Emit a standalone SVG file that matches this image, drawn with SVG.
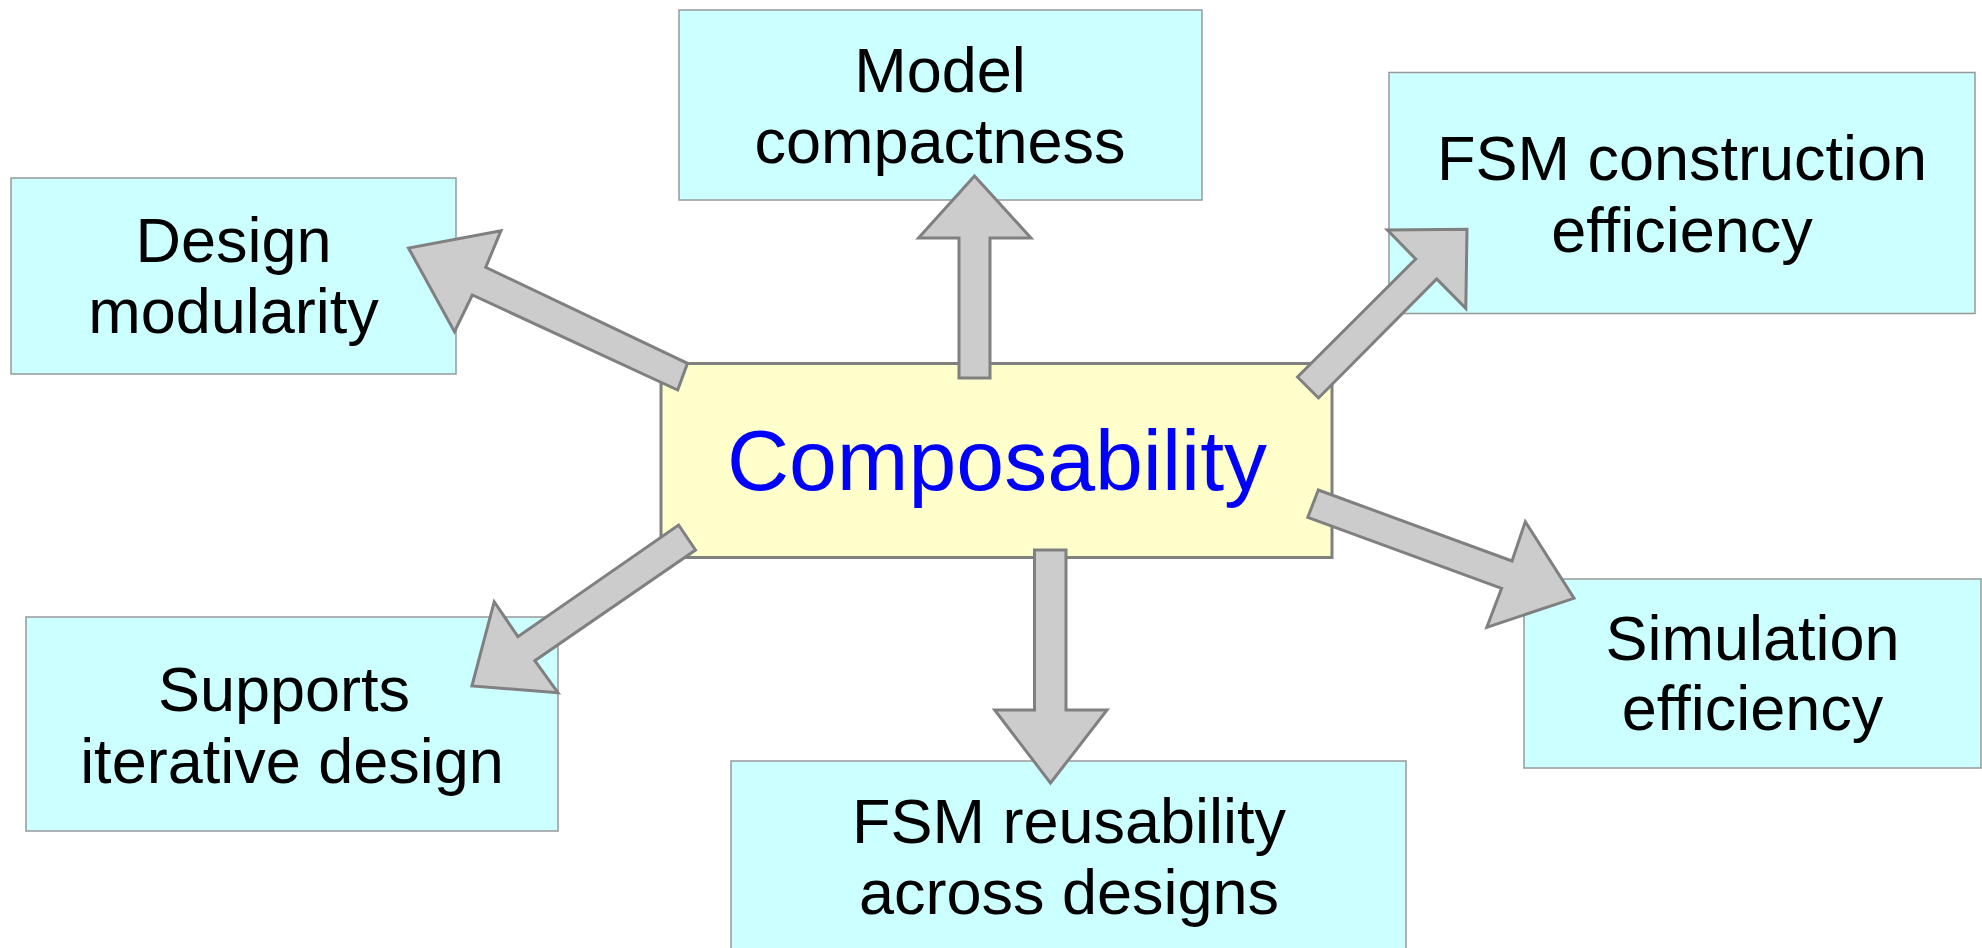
<svg xmlns="http://www.w3.org/2000/svg" width="1982" height="948" viewBox="0 0 1982 948">
<style>
.box{fill:#ccffff;stroke:#999999;stroke-width:1.5}
.core{fill:#ffffcc;stroke:#808080;stroke-width:3}
.lbl{font-family:"Liberation Sans",Arial,sans-serif;font-size:63px;fill:#000000;text-anchor:middle}
.core-lbl{font-family:"Liberation Sans",Arial,sans-serif;font-size:86px;fill:#0000ff;text-anchor:middle}
.arrow{fill:#cccccc;stroke:#808080;stroke-width:3;stroke-linejoin:miter}
</style>
<rect width="1982" height="948" fill="#ffffff"/>
<g id="design-modularity">
<rect class="box" x="11" y="178" width="445" height="196"/>
<text class="lbl" x="233.5" y="262">Design</text>
<text class="lbl" x="233.5" y="333">modularity</text>
</g>
<g id="model-compactness">
<rect class="box" x="679" y="10" width="523" height="190"/>
<text class="lbl" x="940" y="92">Model</text>
<text class="lbl" x="940" y="163">compactness</text>
</g>
<g id="fsm-construction">
<rect class="box" x="1389" y="72.5" width="586" height="241"/>
<text class="lbl" x="1682" y="180">FSM construction</text>
<text class="lbl" x="1682" y="251.5">efficiency</text>
</g>
<g id="supports-iterative">
<rect class="box" x="26" y="617" width="532" height="214"/>
<text class="lbl" x="284" y="710.5">Supports</text>
<text class="lbl" x="292" y="782.5">iterative design</text>
</g>
<g id="fsm-reusability">
<rect class="box" x="731" y="761" width="675" height="200"/>
<text class="lbl" x="1069" y="843">FSM reusability</text>
<text class="lbl" x="1069" y="914">across designs</text>
</g>
<g id="simulation-efficiency">
<rect class="box" x="1524" y="579" width="457" height="189"/>
<text class="lbl" x="1752.5" y="660">Simulation</text>
<text class="lbl" x="1752.5" y="730">efficiency</text>
</g>
<g id="composability">
<rect class="core" x="661" y="363.5" width="671" height="194"/>
<text class="core-lbl" x="997" y="490">Composability</text>
</g>
<g id="connectors">
<polygon class="arrow" points="959,378 959,238 918.5,238 974.5,176 1031,238 990,238 990,378"/>
<polygon class="arrow" points="1034.5,550 1066,550 1066,710 1107,710 1050.5,783 994.7,710 1034.5,710"/>
<polygon class="arrow" points="687.5,363.3 677.7,390 472.3,295 454.5,331.7 408.5,248 501,230.7 485.7,267.3"/>
<polygon class="arrow" points="1297.5,377 1318.5,398 1436.7,279 1465.8,308.3 1467,229.3 1387.4,230 1415.7,259"/>
<polygon class="arrow" points="1318.3,490 1307.8,517.3 1501.6,588.3 1486.8,627.3 1574,598.3 1525.3,521.7 1512,561"/>
<polygon class="arrow" points="678.6,525 695.5,550 534.8,660.7 558,692.7 471.9,686 494.2,601.7 517.9,636.7"/>
</g>
</svg>
